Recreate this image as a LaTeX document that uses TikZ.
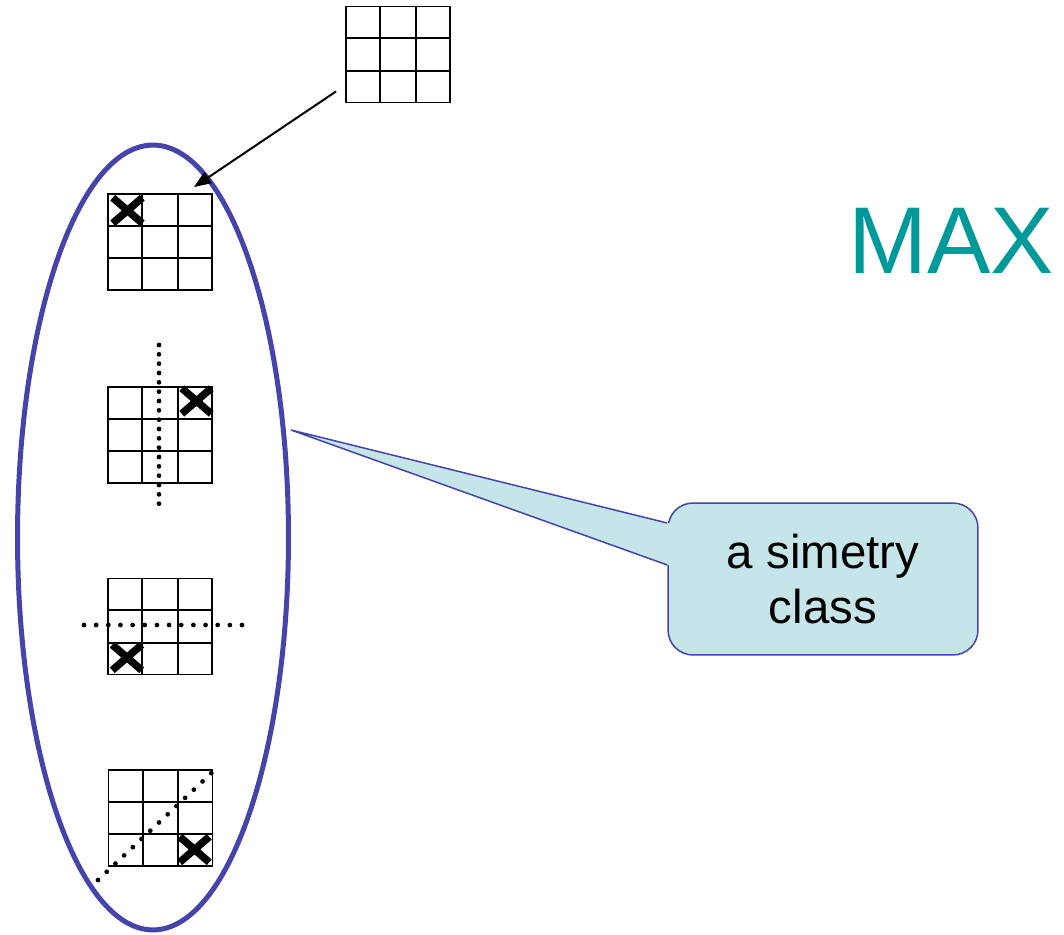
\documentclass[tikz,border=0pt]{standalone}
\usepackage{fontspec}
\setmainfont{Liberation Sans}
\usepackage{xcolor}
\usepackage{tikz}
\usetikzlibrary{calc}
\usetikzlibrary{shapes.geometric, shapes.misc, arrows.meta, positioning}

\definecolor{classblue}{RGB}{68,68,170}
\definecolor{notefill}{RGB}{197,229,233}
\definecolor{maxteal}{RGB}{0,153,153}

\begin{document}
\begin{tikzpicture}[x=0.02cm,y=-0.02cm,
                    board/.style={rectangle,draw,line width=1.1pt,minimum width=2.08cm,minimum height=1.92cm,inner sep=0pt},
                    cell line/.style={line width=1.1pt},
                    xmark/.style={cross out,draw,line width=0.15cm,minimum width=0.44cm,minimum height=0.36cm,inner sep=0pt},
                    sym axis/.style={line width=0.095cm,line cap=round,dash pattern=on 0pt off #1},
                    pointer/.style={line width=0.04cm,-{Triangle[length=0.34cm,width=0.26cm]}},
                    note/.style={rectangle,rounded corners=0.5cm,draw=classblue,line width=0.03cm,fill=notefill,
                                 minimum width=6.2cm,minimum height=3.04cm,align=center,font=\fontsize{27}{31.3}\selectfont}]
\useasboundingbox (0,0) rectangle (1064,935);

% the class of equivalent boards
\node[ellipse,draw=classblue,line width=0.1cm,minimum width=5.42cm,minimum height=15.7cm] (class) at (153,537.5) {};

\node[board] (b0) at (398,54.5) {};
\node[board] (b1) at (160,242) {};
\node[board] (b2) at (160,435) {};
\node[board] (b3) at (160,626.5) {};
\node[board] (b4) at (160.5,818) {};

\foreach \b in {b0,b1,b2,b3,b4}
   \foreach \f in {1,2}
      {\draw[cell line] ($(\b.north west)!\f/3!(\b.north east)$) -- ($(\b.south west)!\f/3!(\b.south east)$);
       \draw[cell line] ($(\b.north west)!\f/3!(\b.south west)$) -- ($(\b.north east)!\f/3!(\b.south east)$);}

\node[xmark] (x1) at (127.5,210.5) {};
\node[xmark] (x2) at (196.5,401) {};
\node[xmark] (x3) at (127,657.5) {};
\node[xmark] (x4) at (194.5,849.5) {};

% symmetry axes
\coordinate (vTop) at (159,345);
\coordinate (vBottom) at (159,513);
\coordinate (hLeft) at (84,625);
\coordinate (hRight) at (242,625);
\coordinate (dLow) at (98,880);
\coordinate (dHigh) at (220,765);
\draw[sym axis=0.1867cm] (vTop) -- (vBottom);
\draw[sym axis=0.2431cm] (hLeft) -- (hRight);
\draw[sym axis=0.2396cm] (dLow) -- (dHigh);

\draw[pointer] ([shift={(-9,-12)}]b0.south west) -- ([shift={(-19,-6)}]b1.north east);

% callout
\node[note] (note) at (823,579) {a simetry\\class};
\coordinate (tip) at (291,430);
\coordinate (p1) at ([shift={(0,-56)}]note.west);
\coordinate (p2) at ([shift={(0,-14)}]note.west);
\fill[notefill] (tip) -- (p1) -- ([shift={(3,0)}]p1) -- ([shift={(3,0)}]p2) -- (p2) -- cycle;
\draw[classblue,line width=0.03cm] (p1) -- (tip) -- (p2);

\node[anchor=base,text=maxteal,font=\fontsize{54}{60}\selectfont,inner sep=0pt] (maxLabel) at (951,274) {MAX};

\end{tikzpicture}
\end{document}
